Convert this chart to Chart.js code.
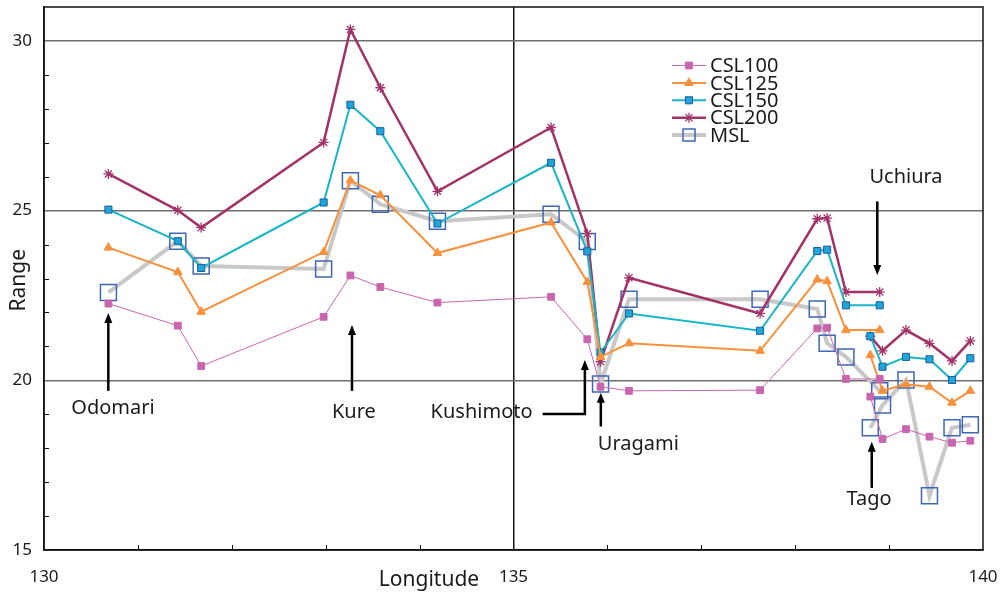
<!DOCTYPE html>
<html>
<head>
<meta charset="utf-8">
<script src="https://cdn.jsdelivr.net/npm/chart.js@4/dist/chart.umd.min.js"></script>
<style>
  html, body { margin: 0; padding: 0; background: #fff; }
  #wrap { width: 1007px; height: 598px; }
</style>
</head>
<body>
<div id="wrap"><canvas id="rangeChart"></canvas></div>
<script>
// station longitudes west -> east; from index 16 a second run starts (Tago onward)
const longitudes = [130.686, 131.425, 131.674, 132.978, 133.263, 133.582, 134.19, 135.40,
                    135.786, 135.927, 136.23, 137.626, 138.235, 138.34, 138.54, 138.90,
                    138.80, 138.93, 139.18, 139.43, 139.67, 139.865];
const breakAt = 16;

const csl100 = [22.26, 21.61, 20.42, 21.87, 23.09, 22.75, 22.29, 22.46, 21.21, 19.81, 19.69,
                19.71, 21.53, 21.55, 20.04, 20.04, 19.52, 18.27, 18.56, 18.34, 18.16, 18.22];
const csl125 = [23.91, 23.19, 22.02, 23.78, 25.89, 25.45, 23.75, 24.65, 22.90, 20.69, 21.09,
                20.87, 22.97, 22.92, 21.48, 21.48, 20.74, 19.69, 19.88, 19.81, 19.34, 19.69];
const csl150 = [25.03, 24.10, 23.31, 25.24, 28.12, 27.34, 24.62, 26.41, 23.80, 20.82, 21.97,
                21.46, 23.81, 23.85, 22.21, 22.21, 21.30, 20.40, 20.69, 20.62, 20.01, 20.65];
const csl200 = [26.08, 25.01, 24.50, 27.01, 30.34, 28.62, 25.57, 27.45, 24.32, 20.55, 23.02,
                21.97, 24.76, 24.78, 22.60, 22.60, 21.30, 20.87, 21.48, 21.09, 20.57, 21.16];
const msl    = [22.59, 24.10, 23.37, 23.28, 25.88, 25.19, 24.69, 24.89, 24.09, 19.89, 22.39,
                22.39, 22.10, 21.09, 20.69, 19.69, 18.60, 19.27, 20.01, 16.60, 18.60, 18.69];

const xTickLabels = [130, 135, 140];
const yTickLabels = [15, 20, 25, 30];

// station labels with arrows, in data units (longitude, range)
const notes = [
    { text: 'Odomari',   at: [130.735, 19.17], arrow: [[130.685, 19.69], [130.685, 21.98]] },
    { text: 'Kure',      at: [133.30, 19.05],  arrow: [[133.28, 19.69], [133.28, 21.63]] },
    { text: 'Kushimoto', at: [134.66, 19.05],  arrow: [[135.31, 19.01], [135.76, 19.01], [135.76, 20.60]] },
    { text: 'Uragami',   at: [136.33, 18.12],  arrow: [[135.93, 18.64], [135.93, 19.63]] },
    { text: 'Tago',      at: [138.786, 16.50], arrow: [[138.815, 16.83], [138.815, 18.19]] },
    { text: 'Uchiura',   at: [139.18, 25.98],  arrow: [[138.874, 25.27], [138.874, 23.10]] }
];

const FONT = '"Noto Sans", "Liberation Sans", Arial, sans-serif';

function toPoints(values) {
    const pts = values.map((v, i) => ({ x: longitudes[i], y: v }));
    pts.splice(breakAt, 0, { x: longitudes[breakAt], y: null });
    return pts;
}

function noOverflow(s) {
    s.paddingTop = 0; s.paddingBottom = 0; s.paddingLeft = 0; s.paddingRight = 0;
}

const frameAndMarks = {
    id: 'frameAndMarks',
    afterDraw(chart) {
        const { ctx, chartArea: a, scales: { x, y } } = chart;
        ctx.save();
        ctx.strokeStyle = '#111';
        ctx.lineWidth = 1.5;
        ctx.strokeRect(a.left, a.top, a.right - a.left, a.bottom - a.top);

        // minor ticks, inside the plot
        ctx.lineWidth = 1;
        ctx.beginPath();
        for (let v = 131; v < 140; v++) {
            if (v % 5 === 0) continue;
            const px = Math.round(x.getPixelForValue(v)) + 0.5;
            ctx.moveTo(px, a.bottom); ctx.lineTo(px, a.bottom - 5);
        }
        for (let v = 16; v < 30; v++) {
            if (v % 5 === 0) continue;
            const py = Math.round(y.getPixelForValue(v)) + 0.5;
            ctx.moveTo(a.left, py); ctx.lineTo(a.left + 5, py);
        }
        ctx.stroke();

        // axis titles
        ctx.fillStyle = '#1a1a1a';
        ctx.font = '21px ' + FONT;
        ctx.textAlign = 'center';
        ctx.textBaseline = 'middle';
        ctx.fillText('Longitude', x.getPixelForValue(134.1), 580);
        ctx.save();
        ctx.translate(19, y.getPixelForValue(22.95));
        ctx.rotate(-Math.PI / 2);
        ctx.fillText('Range', 0, 0);
        ctx.restore();

        // station annotations
        ctx.font = '20px ' + FONT;
        notes.forEach(n => {
            ctx.fillStyle = '#1a1a1a';
            ctx.fillText(n.text, x.getPixelForValue(n.at[0]), y.getPixelForValue(n.at[1]));
            const pts = n.arrow.map(p => [x.getPixelForValue(p[0]), y.getPixelForValue(p[1])]);
            const [tx, ty] = pts[pts.length - 1];
            const [px, py] = pts[pts.length - 2];
            const ang = Math.atan2(ty - py, tx - px);
            const head = 10;
            ctx.strokeStyle = '#000';
            ctx.lineWidth = 2.5;
            ctx.beginPath();
            ctx.moveTo(pts[0][0], pts[0][1]);
            for (let i = 1; i < pts.length - 1; i++) ctx.lineTo(pts[i][0], pts[i][1]);
            ctx.lineTo(tx - Math.cos(ang) * head * 0.8, ty - Math.sin(ang) * head * 0.8);
            ctx.stroke();
            ctx.fillStyle = '#000';
            ctx.beginPath();
            ctx.moveTo(tx, ty);
            ctx.lineTo(tx - Math.cos(ang) * head + Math.sin(ang) * 4, ty - Math.sin(ang) * head - Math.cos(ang) * 4);
            ctx.lineTo(tx - Math.cos(ang) * head - Math.sin(ang) * 4, ty - Math.sin(ang) * head + Math.cos(ang) * 4);
            ctx.closePath();
            ctx.fill();
        });

        // legend inside the plot
        const lx = 672, lw = 34, ly0 = 65.5, step = 17.4;
        ctx.textAlign = 'left';
        ctx.font = '20px ' + FONT;
        chart.data.datasets.forEach((ds, k) => {
            const ly = ly0 + k * step;
            ctx.strokeStyle = ds.borderColor;
            ctx.lineWidth = ds.borderWidth;
            ctx.beginPath();
            ctx.moveTo(lx, ly); ctx.lineTo(lx + lw, ly);
            ctx.stroke();
            ctx.fillStyle = ds.pointBackgroundColor;
            ctx.strokeStyle = ds.pointBorderColor;
            ctx.lineWidth = ds.pointBorderWidth;
            Chart.helpers.drawPoint(ctx, {
                pointStyle: ds.pointStyle,
                radius: ds.pointStyle === 'rect' ? Math.min(ds.pointRadius, 8.5) : ds.pointRadius,
                rotation: 0,
                borderWidth: ds.pointBorderWidth
            }, lx + lw / 2, ly);
            ctx.fillStyle = '#1a1a1a';
            ctx.fillText(ds.label, 710, ly + 1);
        });
        ctx.restore();
    }
};

new Chart(document.getElementById('rangeChart'), {
    type: 'line',
    data: {
        datasets: [
            {
                label: 'CSL100', data: toPoints(csl100),
                borderColor: '#C965AE', borderWidth: 1,
                pointStyle: 'rect', pointRadius: 4.8,
                pointBackgroundColor: '#C965AE', pointBorderColor: '#C965AE', pointBorderWidth: 1
            },
            {
                label: 'CSL125', data: toPoints(csl125),
                borderColor: '#F7913D', borderWidth: 2,
                pointStyle: 'triangle', pointRadius: 5,
                pointBackgroundColor: '#F7913D', pointBorderColor: '#F7913D', pointBorderWidth: 1
            },
            {
                label: 'CSL150', data: toPoints(csl150),
                borderColor: '#17B5C5', borderWidth: 2,
                pointStyle: 'rect', pointRadius: 5,
                pointBackgroundColor: '#1FA5DA', pointBorderColor: '#1B5E9E', pointBorderWidth: 1
            },
            {
                label: 'CSL200', data: toPoints(csl200),
                borderColor: '#A23369', borderWidth: 2.5,
                pointStyle: 'star', pointRadius: 5,
                pointBackgroundColor: '#A23369', pointBorderColor: '#A23369', pointBorderWidth: 1.3
            },
            {
                label: 'MSL', data: toPoints(msl),
                borderColor: '#C8C8C8', borderWidth: 4,
                pointStyle: 'rect', pointRadius: 11.3,
                pointBackgroundColor: 'rgba(0,0,0,0)', pointBorderColor: '#3E67B5', pointBorderWidth: 1.5
            }
        ]
    },
    options: {
        responsive: true,
        maintainAspectRatio: false,
        animation: false,
        events: [],
        spanGaps: false,
        layout: { autoPadding: false, padding: { left: 0, top: 7, right: 24, bottom: 0 } },
        plugins: {
            legend: { display: false },
            tooltip: { enabled: false }
        },
        scales: {
            x: {
                type: 'linear', min: 130, max: 140,
                afterFit: s => { s.height = 48; noOverflow(s); },
                ticks: {
                    stepSize: 1, autoSkip: false, maxRotation: 0, padding: 17,
                    color: '#1a1a1a', font: { size: 17, family: FONT },
                    callback: v => xTickLabels.includes(v) ? String(v) : ''
                },
                grid: {
                    drawTicks: false,
                    color: c => c.tick && c.tick.value === 135 ? '#111' : 'rgba(0,0,0,0)',
                    lineWidth: 1.5
                },
                border: { display: true, color: '#111', width: 1.5 }
            },
            y: {
                min: 15, max: 31,
                afterFit: s => { s.width = 44; noOverflow(s); },
                ticks: {
                    stepSize: 1, autoSkip: false, padding: 12,
                    color: '#1a1a1a', font: { size: 17, family: FONT },
                    callback: v => yTickLabels.includes(v) ? String(v) : ''
                },
                grid: {
                    drawTicks: false,
                    color: c => c.tick && c.tick.value % 5 === 0 && c.tick.value > 15 ? '#6e6e6e' : 'rgba(0,0,0,0)',
                    lineWidth: 1.5
                },
                border: { display: true, color: '#111', width: 1.5 }
            }
        }
    },
    plugins: [frameAndMarks]
});
</script>
</body>
</html>
